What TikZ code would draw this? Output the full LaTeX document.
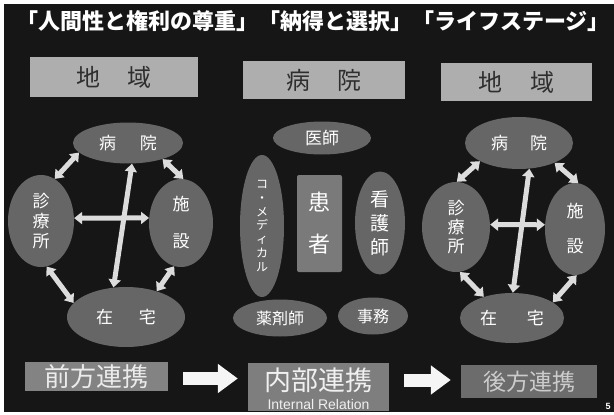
\documentclass[tikz,border=0pt]{standalone}
\usepackage{fontspec}
\setmainfont{Liberation Sans}
\newfontfamily\jp{Noto Sans CJK JP}
\usetikzlibrary{shapes.geometric,arrows.meta}
\definecolor{panel}{HTML}{161616}
\definecolor{topgray}{HTML}{AEAEAE}
\definecolor{toptext}{HTML}{2E2E2E}
\definecolor{ellgray}{HTML}{666666}
\definecolor{patgray}{HTML}{7A7A7A}
\definecolor{arrgray}{HTML}{DCDCDC}
\definecolor{botA}{HTML}{838383}
\definecolor{botB}{HTML}{7E7E7E}
\definecolor{botC}{HTML}{6C6C6C}
\begin{document}
\begin{tikzpicture}[x=1pt,y=-1pt,
  topbox/.style={draw=none,fill=topgray,text=toptext,inner sep=0pt,
    font=\jp\fontsize{24}{24}\selectfont},
  cl/.style={ellipse,fill=ellgray,text=white,inner sep=0pt,align=center},
  dbl/.style={draw=arrgray,line width=5pt,
    {Triangle[length=8pt,width=12pt]}-{Triangle[length=8pt,width=12pt]}},
  botbox/.style={inner sep=0pt},
  blockarrow/.style={draw=white!96!black,line width=13pt,-{Triangle[length=20pt,width=28pt]}}
]
\useasboundingbox (0,0) rectangle (614,415);
\fill[white] (0,0) rectangle (614,415);
\fill[panel] (4,4) rectangle (614,412);

% title
\node[text=white,inner sep=0pt,font=\jp\bfseries\fontsize{22}{24}\selectfont] (title) at (313,21)
  {「人間性と権利の尊重」「納得と選択」「ライフステージ」};

% top boxes
\node[topbox,minimum width=168,minimum height=40] (t1) at (114,77) {地\hspace{28pt}域};
\node[topbox,minimum width=162,minimum height=38] (t2) at (324,80) {病\hspace{28pt}院};
\node[topbox,minimum width=151,minimum height=38] (t3) at (516.5,82) {地\hspace{28pt}域};

% left cluster
\node[cl,minimum width=110,minimum height=41,font=\jp\fontsize{17}{17}\selectfont] (Lb) at (128,143) {病\hspace{24pt}院};
\node[cl,minimum width=66,minimum height=92,font=\jp\fontsize{17}{20}\selectfont] (Ls) at (41,221) {診\\療\\所};
\node[cl,minimum width=64,minimum height=88,font=\jp\fontsize{17}{37}\selectfont] (Lf) at (181,223) {施\\設};
\node[cl,minimum width=118,minimum height=60,font=\jp\fontsize{17}{17}\selectfont] (Lz) at (126,317) {在\hspace{26pt}宅};
\draw[dbl] (Lb.191) -- (Ls.72);
\draw[dbl] (Lb.335) -- (Lf.87);
\draw[dbl] (Ls.5) -- (Lf.171);
\draw[dbl] (Lb.281) -- (Lz.113);
\draw[dbl] (Ls.277) -- (Lz.165);
\draw[dbl] (Lf.261) -- (Lz.40);

% middle cluster
\node[cl,minimum width=98,minimum height=33,font=\jp\fontsize{17}{17}\selectfont] (doc) at (322,138) {医師};
\node[cl,minimum width=44,minimum height=142,font=\jp\fontsize{12}{13.7}\selectfont] (com) at (262,226) {コ\\・\\メ\\デ\\ィ\\カ\\ル};
\node[fill=patgray,text=white,minimum width=45,minimum height=97,inner sep=0pt,rounded corners=2pt,align=center,
  font=\jp\fontsize{22}{42}\selectfont] (pat) at (319.5,223.5) {患\\者};
\node[cl,minimum width=50,minimum height=103,font=\jp\fontsize{19}{24}\selectfont] (nur) at (380,223) {看\\護\\師};
\node[cl,minimum width=94,minimum height=37,font=\jp\fontsize{16}{16}\selectfont] (pha) at (280,318) {薬剤師};
\node[cl,minimum width=70,minimum height=37,font=\jp\fontsize{16}{16}\selectfont] (off) at (373,316) {事務};

% right cluster
\node[cl,minimum width=108,minimum height=52,font=\jp\fontsize{17}{17}\selectfont] (Rb) at (519,143) {病\hspace{22pt}院};
\node[cl,minimum width=68,minimum height=90,font=\jp\fontsize{17}{19}\selectfont] (Rs) at (456,227) {診\\療\\所};
\node[cl,minimum width=60,minimum height=92,font=\jp\fontsize{17}{35}\selectfont] (Rf) at (575,229) {施\\設};
\node[cl,minimum width=104,minimum height=50,font=\jp\fontsize{17}{17}\selectfont] (Rz) at (512,318) {在\hspace{30pt}宅};
\draw[dbl] (Rb.205) -- (Rs.89);
\draw[dbl] (Rb.331) -- (Rf.86);
\draw[dbl] (Rs.4) -- (Rf.172);
\draw[dbl] (Rb.292) -- (Rz.88);
\draw[dbl] (Rs.275) -- (Rz.143);
\draw[dbl] (Rf.272) -- (Rz.21);

% bottom row
\node[botbox,fill=botA,text=white!92!black,minimum width=143,minimum height=29,
  font=\jp\fontsize{26}{26}\selectfont] (b1) at (96.5,376.5) {前方連携};
\node[botbox,fill=botB,minimum width=141,minimum height=48] (b2) at (318.5,387) {};
\node[inner sep=0pt,text=white!94!black,font=\jp\fontsize{27}{27}\selectfont] (b2t) at (318.5,380) {内部連携};
\node[inner sep=0pt,text=white!94!black,font=\fontsize{14}{14}\selectfont] (b2s) at (318.5,404) {Internal Relation};
\node[botbox,fill=botC,text=white!80!black,minimum width=136,minimum height=33,
  font=\jp\fontsize{23}{23}\selectfont] (b3) at (529,381.5) {後方連携};
\draw[blockarrow] ([shift={(15,2)}]b1.east) -- ([shift={(-10,2)}]b1.east -| b2.west);
\draw[blockarrow] ([shift={(15,-7)}]b2.east) -- ([shift={(-10,-7)}]b2.east -| b3.west);

% page number
\node[text=white,inner sep=0pt,font=\bfseries\fontsize{9}{9}\selectfont] (pg) at (608,406) {5};
\end{tikzpicture}
\end{document}
